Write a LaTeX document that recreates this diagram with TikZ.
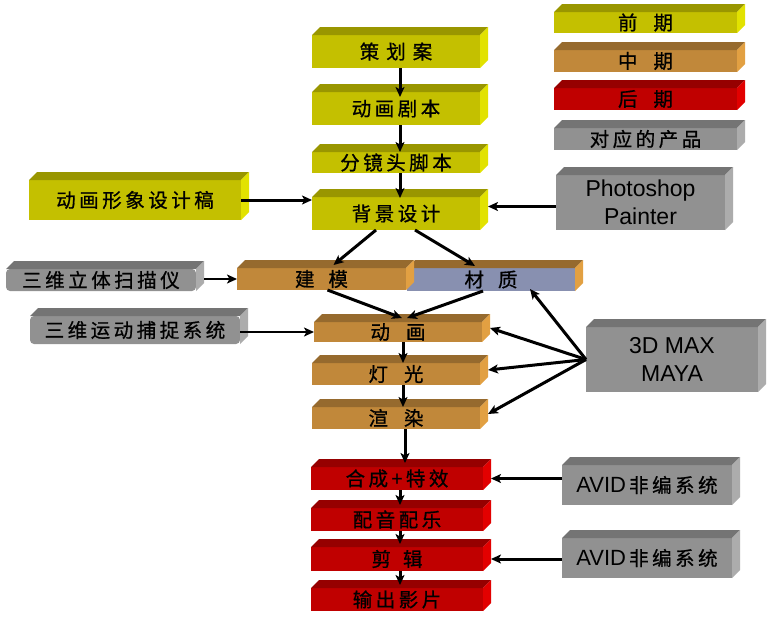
\documentclass[tikz,border=0pt]{standalone}
\usepackage{fontspec}
\setmainfont{Liberation Sans}
\newfontfamily\cjk[LetterSpace=18,FakeBold=0.8]{Noto Sans CJK SC}
\usetikzlibrary{arrows.meta,calc}

% face colours: F front, T top, S side
\definecolor{yelF}{RGB}{196,192,0}
\definecolor{yelT}{RGB}{153,150,0}
\definecolor{yelS}{RGB}{226,226,0}
\definecolor{brnF}{RGB}{193,136,58}
\definecolor{brnT}{RGB}{150,106,46}
\definecolor{brnS}{RGB}{226,160,66}
\definecolor{bluF}{RGB}{136,144,176}
\definecolor{bluT}{RGB}{150,106,46}
\definecolor{bluS}{RGB}{226,160,66}
\definecolor{redF}{RGB}{192,0,0}
\definecolor{redT}{RGB}{150,0,0}
\definecolor{redS}{RGB}{226,0,0}
\definecolor{gryF}{RGB}{145,145,145}
\definecolor{gryT}{RGB}{116,116,116}
\definecolor{gryS}{RGB}{172,172,172}

\tikzset{
  cubefront/.style={inner sep=0pt, outer sep=0pt, text=black, align=center,
    font=\fontsize{19.5}{23}\cjk},
  latin/.style={font=\fontsize{23}{28}\selectfont},
  colbox/.style={minimum width=168pt},
  redbox/.style={minimum width=172pt},
  legbox/.style={minimum width=183pt, minimum height=21pt},
  arr/.style={line width=3pt, -{Stealth[length=10pt,width=9pt,inset=2.5pt]}},
  thinarr/.style={line width=2.4pt, -{Stealth[length=10pt,width=9pt,inset=2.5pt]}}
}

\newcommand{\dep}{8}
% #1 colour set, #2 name, #3 centre, #4 node options, #5 text
\newcommand{\cube}[5]{%
  \node[cubefront, fill=#1F, #4] (#2) at #3 {#5};
  \fill[#1T] (#2.north west) -- ++(\dep,-\dep) -- ([shift={(\dep,-\dep)}]#2.north east) -- (#2.north east) -- cycle;
  \fill[#1S] (#2.north east) -- ++(\dep,-\dep) -- ([shift={(\dep,-\dep)}]#2.south east) -- (#2.south east) -- cycle;
  \coordinate (#2-r) at ([shift={(\dep,-\dep/2)}]#2.east);
}

\begin{document}
\begin{tikzpicture}[x=1pt,y=-1pt]
\fill[white] (0,0) rectangle (767,629);
\useasboundingbox (0,0) rectangle (767,629);

% legend
\cube{yel}{lg1}{(645.5,22.5)}{legbox}{前\hspace{16pt}期}
\cube{brn}{lg2}{(645.5,61)}{legbox, minimum height=22pt}{中\hspace{16pt}期}
\cube{red}{lg3}{(645.5,99)}{legbox, minimum height=22pt}{后\hspace{16pt}期}
\cube{gry}{lg4}{(645.5,139)}{legbox, minimum height=22pt}{对应的产品}

% pre-production
\cube{yel}{ch}{(396,51.5)}{colbox, minimum height=33pt}{策\hspace{7pt}划\hspace{7pt}案}
\cube{yel}{jb}{(396,108.5)}{colbox, minimum height=33pt}{动画剧本}
\cube{yel}{fj}{(396,162.5)}{colbox, minimum height=21pt}{分镜头脚本}
\cube{yel}{bj}{(396,213.5)}{colbox, minimum height=33pt}{背景设计}
\cube{yel}{xx}{(135,200)}{minimum width=212pt, minimum height=40pt}{动画形象设计稿}
\cube{gry}{ps}{(640.5,202.5)}{latin, minimum width=169pt, minimum height=55pt}{Photoshop\\Painter}

% production
\cube{blu}{cz}{(491,279.5)}{colbox, minimum height=23pt}{材\hspace{14pt}质}
\cube{brn}{jm}{(321.5,279)}{minimum width=169pt, minimum height=22pt}{建\hspace{14pt}模}
\cube{gry}{sm}{(101,280)}{minimum width=190pt, minimum height=22pt, rounded corners=4pt}{三维立体扫描仪}
\cube{gry}{bz}{(135,330)}{minimum width=210pt, minimum height=28pt, rounded corners=4pt}{三维运动捕捉系统}
\cube{brn}{dh}{(398,332)}{colbox, minimum height=20pt}{动\hspace{16pt}画}
\cube{brn}{dg}{(396,374)}{colbox, minimum height=22pt}{灯\hspace{16pt}光}
\cube{brn}{xr}{(396,418)}{colbox, minimum height=22pt}{渲\hspace{16pt}染}
\cube{gry}{mx}{(672,359.5)}{latin, minimum width=172pt, minimum height=65pt}{3D MAX\\MAYA}

% post-production
\cube{red}{hc}{(397,478.5)}{redbox, minimum height=23pt}{合成+特效}
\cube{red}{py}{(397,519.5)}{redbox, minimum height=23pt}{配音配乐}
\cube{red}{jj}{(397,559)}{redbox, minimum height=24pt}{剪\hspace{12pt}辑}
\cube{red}{sc}{(397,599.5)}{redbox, minimum height=23pt}{输出影片}
\cube{gry}{av1}{(647,485)}{minimum width=170pt, minimum height=40pt}{{\rmfamily\fontsize{22}{26}\selectfont AVID}\hspace{3pt}非编系统}
\cube{gry}{av2}{(647,558)}{minimum width=170pt, minimum height=40pt}{{\rmfamily\fontsize{22}{26}\selectfont AVID}\hspace{3pt}非编系统}

% main flow
\draw[arr] ($(ch.south)+(4,0)$) -- ($(jb.north)+(4,5)$);
\draw[arr] ($(jb.south)+(4,0)$) -- ($(fj.north)+(4,0)$);
\draw[arr] ($(fj.south)+(4,0)$) -- ($(bj.north)+(4,1)$);
\draw[arr] (xx.east) -- (xx.east -| bj.west);
\draw[arr] ($(ps.west)+(0,4)$) -- ($(bj-r |- ps.west)+(0,4)$);
\draw[arr] ($(bj.south)+(-20,0)$) -- ($(jm.north)+(12,-3)$);
\draw[arr] ($(bj.south)+(19,0)$) -- ($(cz.north)+(-16,-2)$);
\draw[arr] ($(jm.south)+(6,0)$) -- ($(dh.north)+(4,-4)$);
\draw[arr] ($(cz.south)+(-8,0)$) -- ($(dh.north)+(9,-4)$);
\draw[thinarr] (sm-r |- jm.west) -- (jm.west);
\draw[thinarr] (bz.east |- dh.west) -- (dh.west);
\draw[arr] (mx.west) -- ($(cz.south)+(39,-2)$);
\draw[arr] (mx.west) -- (dh-r);
\draw[arr] (mx.west) -- (dg-r);
\draw[arr] (mx.west) -- (xr-r);
\draw[arr] ($(dh.south)+(5,0)$) -- ($(dg.north)+(7,0)$);
\draw[arr] ($(dg.south)+(7,0)$) -- ($(xr.north)+(7,0)$);
\draw[arr] ($(xr.south)+(9,0)$) -- ($(hc.north)+(8,-4)$);
\draw[arr] ($(hc.south)+(3,0)$) -- ($(py.north)+(3,-3)$);
\draw[arr] ($(py.south)+(3,0)$) -- ($(jj.north)+(3,-3)$);
\draw[arr] ($(jj.south)+(3,0)$) -- ($(sc.north)+(3,-3)$);
\draw[arr] (av1.west |- hc.east) -- (hc-r |- hc.east);
\draw[arr] (av2.west |- jj.east) -- (jj-r |- jj.east);
\end{tikzpicture}
\end{document}
